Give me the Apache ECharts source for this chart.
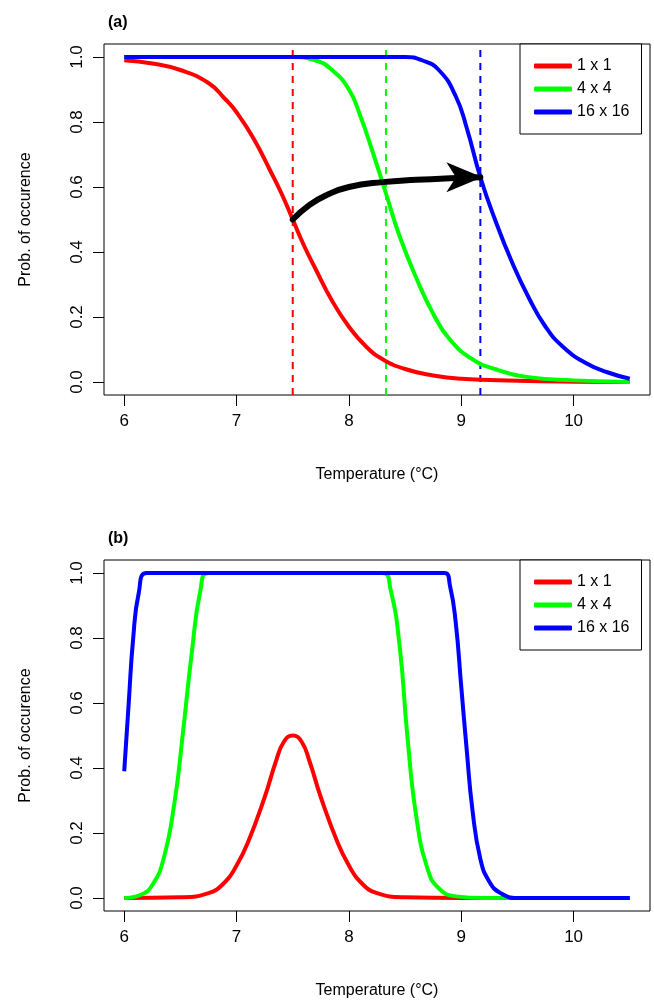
<!DOCTYPE html>
<html><head><meta charset="utf-8">
<script src="https://cdn.jsdelivr.net/npm/echarts@6/dist/echarts.min.js"></script>
<style>body{margin:0}#c{width:654px;height:1002px}</style></head>
<body><div id="c"></div>
<script>
var names = ['1 x 1','4 x 4','16 x 16'];
var colors = ['#ff0000','#00ff00','#0000ff'];
var tickX = [6,7,8,9,10];
var tickY = [0,0.2,0.4,0.6,0.8,1.0];
// panel (a)
var aRed = [[6,0.99],[6.25,0.98],[6.5,0.96],[6.75,0.92],[6.9,0.87],[7,0.83],[7.15,0.75],[7.3,0.65],[7.4,0.58],[7.5,0.5],[7.6,0.42],[7.7,0.35],[7.85,0.25],[8,0.17],[8.15,0.11],[8.3,0.07],[8.5,0.04],[8.75,0.02],[9,0.01],[9.5,0.004],[10,0.001],[10.5,0]];
var aGreen = [[6,1],[7,1],[7.5,1],[7.7,0.99],[7.85,0.96],[8,0.9],[8.1,0.82],[8.2,0.72],[8.33,0.58],[8.45,0.45],[8.6,0.32],[8.75,0.21],[8.9,0.13],[9.1,0.07],[9.3,0.04],[9.6,0.015],[10,0.005],[10.5,0]];
var aBlue = [[6,1],[8,1],[8.5,1],[8.65,0.99],[8.8,0.96],[8.95,0.88],[9.05,0.78],[9.17,0.63],[9.3,0.5],[9.45,0.37],[9.6,0.26],[9.75,0.17],[9.9,0.11],[10.1,0.06],[10.3,0.03],[10.5,0.01]];
var arrowPath = [[7.5,0.5],[7.65,0.545],[7.8,0.575],[8.0,0.6],[8.3,0.615],[8.6,0.622],[8.9,0.627],[9.17,0.63]];
var vlines = [7.5,8.33,9.17];
// panel (b)
var bRed = [[6,0],[6.5,0.002],[6.75,0.015],[6.9,0.05],[7,0.1],[7.1,0.17],[7.25,0.31],[7.35,0.42],[7.42,0.48],[7.5,0.5],[7.58,0.48],[7.65,0.42],[7.75,0.31],[7.9,0.17],[8,0.1],[8.1,0.05],[8.25,0.015],[8.5,0.002],[9,0],[10.5,0]];
var bGreen = [[6,0],[6.15,0.01],[6.25,0.04],[6.35,0.12],[6.45,0.3],[6.52,0.5],[6.6,0.75],[6.68,0.95],[6.75,1],[8.3,1],[8.37,0.95],[8.45,0.78],[8.52,0.5],[8.6,0.25],[8.7,0.09],[8.8,0.03],[8.95,0.005],[9.2,0],[10.5,0]];
var bBlue = [[6,0.39],[6.04,0.6],[6.08,0.8],[6.13,0.94],[6.2,1],[8.85,1],[8.9,0.96],[8.95,0.85],[9.0,0.65],[9.05,0.45],[9.1,0.27],[9.17,0.12],[9.25,0.05],[9.35,0.015],[9.5,0],[10.5,0]];

var F = 'Liberation Sans, Arial, sans-serif';
function xAx(i){return {type:'value',gridIndex:i,min:5.82,max:10.68,
  axisLine:{show:false,onZero:false},splitLine:{show:false},
  axisTick:{customValues:tickX,length:11,inside:false,lineStyle:{color:'#000'}},
  axisLabel:{customValues:tickX,color:'#000',fontSize:17,fontFamily:F,margin:18},
  name:'Temperature (°C)',nameLocation:'middle',nameGap:72,nameTextStyle:{color:'#000',fontSize:16,fontFamily:F}};}
function yAx(i){return {type:'value',gridIndex:i,min:-0.04,max:1.04,
  axisLine:{show:false,onZero:false},splitLine:{show:false},
  axisTick:{customValues:tickY,length:11,inside:false,lineStyle:{color:'#000'}},
  axisLabel:{customValues:tickY,color:'#000',fontSize:17,fontFamily:F,rotate:90,margin:18,formatter:function(v){return v.toFixed(1);}},
  name:'Prob. of occurence',nameLocation:'middle',nameGap:70,nameTextStyle:{color:'#000',fontSize:16,fontFamily:F}};}
function ln(name,data,c,i){return {type:'line',name:name,data:data,xAxisIndex:i,yAxisIndex:i,smooth:0.5,symbol:'none',lineStyle:{color:c,width:4},itemStyle:{color:c},z:3};}
var series = [
  ln(names[0],aRed,colors[0],0), ln(names[1],aGreen,colors[1],0), ln(names[2],aBlue,colors[2],0),
  ln(names[0],bRed,colors[0],1), ln(names[1],bGreen,colors[1],1), ln(names[2],bBlue,colors[2],1),
  {type:'line',data:arrowPath,xAxisIndex:0,yAxisIndex:0,smooth:0.5,symbol:'none',lineStyle:{color:'#000',width:6,cap:'round'},z:4},
  {type:'scatter',data:[arrowPath[arrowPath.length-1]],xAxisIndex:0,yAxisIndex:0,symbol:'path://M0,0 L30,12 L0,24 L8,12 Z',symbolSize:[36,30],symbolOffset:[-16,0],itemStyle:{color:'#000',opacity:1},emphasis:{disabled:true},z:5}
];
vlines.forEach(function(v,k){
  series.push({type:'line',data:[[v,-0.04],[v,1.04]],xAxisIndex:0,yAxisIndex:0,symbol:'none',lineStyle:{color:colors[k],width:2,type:[7,6]},z:2});
});
function leg(top){return {orient:'vertical',left:520,top:top,width:130,data:names,icon:'roundRect',itemWidth:38,itemHeight:5,itemGap:7,
  borderColor:'#000',borderWidth:1,borderRadius:0,padding:[14,12,14,14],backgroundColor:'#fff',
  textStyle:{color:'#000',fontSize:16,fontFamily:F}};}
var chart = echarts.init(document.getElementById('c'));
chart.setOption({
  animation:false,
  title:[{text:'(a)',left:103,top:10,textStyle:{fontSize:16,fontWeight:'bold',fontFamily:F,color:'#000'}},
         {text:'(b)',left:103,top:526,textStyle:{fontSize:16,fontWeight:'bold',fontFamily:F,color:'#000'}}],
  grid:[{left:104,top:44,width:546,height:351,show:true,borderColor:'#000',borderWidth:1},
        {left:104,top:560,width:546,height:351,show:true,borderColor:'#000',borderWidth:1}],
  xAxis:[xAx(0),xAx(1)], yAxis:[yAx(0),yAx(1)],
  legend:[leg(44),leg(560)],
  series:series
});
</script></body></html>
